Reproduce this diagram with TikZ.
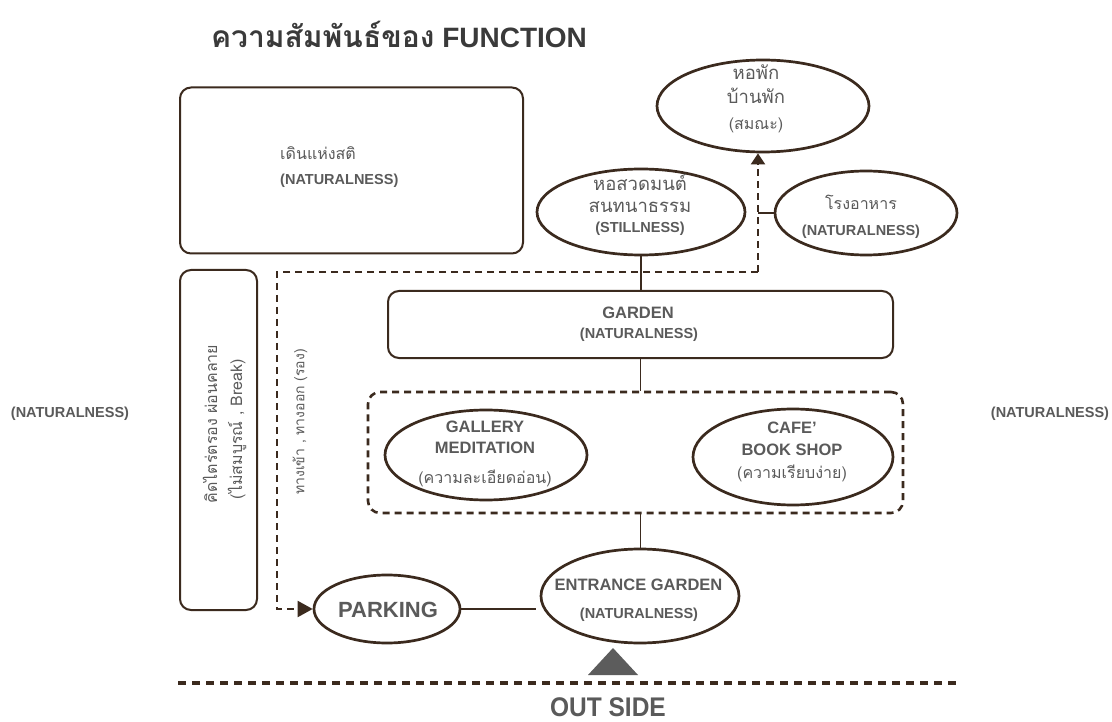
\documentclass[tikz,border=0pt]{standalone}
\usepackage{fontspec}
\setmainfont{Liberation Sans}
\newfontfamily\thaif[Script=Thai]{Loma}
\usetikzlibrary{shapes.geometric,arrows.meta}
\definecolor{brn}{HTML}{3B2A1E}
\definecolor{tg}{HTML}{5A5A5A}
\definecolor{tt}{HTML}{3A3A3A}
\definecolor{trig}{HTML}{5C5C5C}
\begin{document}
\begin{tikzpicture}[x=1pt,y=-1pt,
  ell/.style={ellipse, draw=brn, line width=2.7pt, inner sep=0pt},
  rbox/.style={rectangle, draw=brn, line width=2pt, rounded corners=11pt, inner sep=0pt},
  grpbox/.style={rectangle, draw=brn, line width=2.6pt, rounded corners=12pt, dash pattern=on 7pt off 5pt, inner sep=0pt},
  conn/.style={draw=brn, line width=1.7pt},
  dsh/.style={draw=brn, line width=2pt, dash pattern=on 7pt off 5pt},
  lab/.style={text=tg, inner sep=0pt, font=\fontsize{14.5}{17}\selectfont\bfseries},
  big/.style={text=tg, inner sep=0pt, font=\fontsize{16.5}{19}\selectfont\bfseries},
  th/.style={text=tg, inner sep=0pt, font=\thaif\fontsize{16}{19}\selectfont},
  thb/.style={text=tg, inner sep=0pt, font=\thaif\fontsize{18.5}{22}\selectfont},
]
\useasboundingbox (0,0) rectangle (1112,722);
\fill[white] (0,0) rectangle (1112,722);

% title
\node[text=tt, inner sep=0pt, font=\fontsize{28}{32}\selectfont\bfseries] (title) at (399,34) {{\thaif\fontsize{30}{32}\selectfont ความสัมพันธ์ของ} FUNCTION};

% walking box
\node[rbox, minimum width=343pt, minimum height=166pt] (walk) at (351.5,170.5) {};
\node[th, anchor=base west] (walk1) at (280,160) {เดินแห่งสติ};
\node[lab, anchor=west] (walk2) at (280,181) {(NATURALNESS)};

% vertical box
\node[rbox, minimum width=77pt, minimum height=340pt] (rest) at (218.5,440) {};
\node[th, rotate=90] (rest1) at (210,424) {คิดไตร่ตรอง ผ่อนคลาย};
\node[th, rotate=90] (rest2) at (237,429) {({\thaif ไม่สมบูรณ์} , Break)};

% side labels
\node[lab] (sideL) at (70,414) {(NATURALNESS)};
\node[lab] (sideR) at (1050,414) {(NATURALNESS)};

% dorm
\node[ell, minimum width=212pt, minimum height=92pt] (dorm) at (763,106) {};
\node[thb, anchor=base] (dorm1) at (756,80) {หอพัก};
\node[thb, anchor=base] (dorm2) at (756,104) {บ้านพัก};
\node[th, anchor=base] (dorm3) at (756,130) {(สมณะ)};

% prayer hall
\node[ell, minimum width=208pt, minimum height=86pt] (pray) at (641,212) {};
\node[thb, anchor=base] (pray1) at (640,191) {หอสวดมนต์};
\node[thb, anchor=base] (pray2) at (640,213) {สนทนาธรรม};
\node[lab] (pray3) at (640,229) {(STILLNESS)};

% canteen
\node[ell, minimum width=182pt, minimum height=84pt] (canteen) at (866,213) {};
\node[th, anchor=base] (cant1) at (861,210) {โรงอาหาร};
\node[lab] (cant2) at (861,232) {(NATURALNESS)};

% garden
\node[rbox, minimum width=505pt, minimum height=67pt] (garden) at (640.5,324.5) {};
\node[big] (gard1) at (638,313) {GARDEN};
\node[lab] (gard2) at (639,335) {(NATURALNESS)};

% group box
\node[grpbox, minimum width=535pt, minimum height=121pt] (grp) at (635.5,452.5) {};

% gallery
\node[ell, minimum width=202pt, minimum height=90pt] (gallery) at (486,455) {};
\node[big] (gal1) at (485,427) {GALLERY};
\node[big] (gal2) at (485,448) {MEDITATION};
\node[th, anchor=base] (gal3) at (485,483) {(ความละเอียดอ่อน)};

% cafe
\node[ell, minimum width=200pt, minimum height=96pt] (cafe) at (793,457) {};
\node[big] (cafe1) at (792,428) {CAFE'};
\node[big] (cafe2) at (792,450) {BOOK SHOP};
\node[th, anchor=base] (cafe3) at (792,478) {(ความเรียบง่าย)};

% entrance
\node[ell, minimum width=198pt, minimum height=94pt] (entrance) at (640,596) {};
\node[big] (ent1) at (638.5,585) {ENTRANCE GARDEN};
\node[lab] (ent2) at (639,615) {(NATURALNESS)};

% parking
\node[ell, minimum width=146pt, minimum height=68pt] (parking) at (387,609) {};
\node[text=tg, inner sep=0pt, font=\fontsize{22}{26}\selectfont\bfseries] (park1) at (388,610) {PARKING};

% connectors
\draw[conn] (pray.south) -- (pray.south |- garden.north);
\draw[conn] (garden.south) -- (garden.south |- grp.north);
\draw[conn] (garden.south |- grp.south) -- (garden.south |- entrance.north);
\draw[conn, shorten >=4pt] (parking.east) -- (parking.east -| entrance.west);

% dashed route
\coordinate (dl) at (277,272);
\coordinate (dr) at (758,272);
\draw[dsh, -{Triangle[length=11pt,width=14pt]}] (dr) -- (dr |- dorm.south);
\draw[dsh, -{Triangle[length=15pt,width=16pt]}] (dr) -- (dl) -- (dl |- parking.west) -- (parking.west);
\draw[conn] (dr |- canteen.west) -- (canteen.west);
\node[th, font=\thaif\fontsize{14}{17}\selectfont, rotate=90] (route) at (300,422) {ทางเข้า , ทางออก (รอง)};

% outside
\fill[trig] (588,675) -- (638,675) -- (613,648) -- cycle;
\draw[brn, line width=4pt, dash pattern=on 8pt off 6pt] (178,683) -- (957,683);
\node[text=tg, inner sep=0pt, font=\fontsize{24.5}{28}\selectfont\bfseries, yscale=1.1] (out) at (608,707) {OUT SIDE};
\end{tikzpicture}
\end{document}
